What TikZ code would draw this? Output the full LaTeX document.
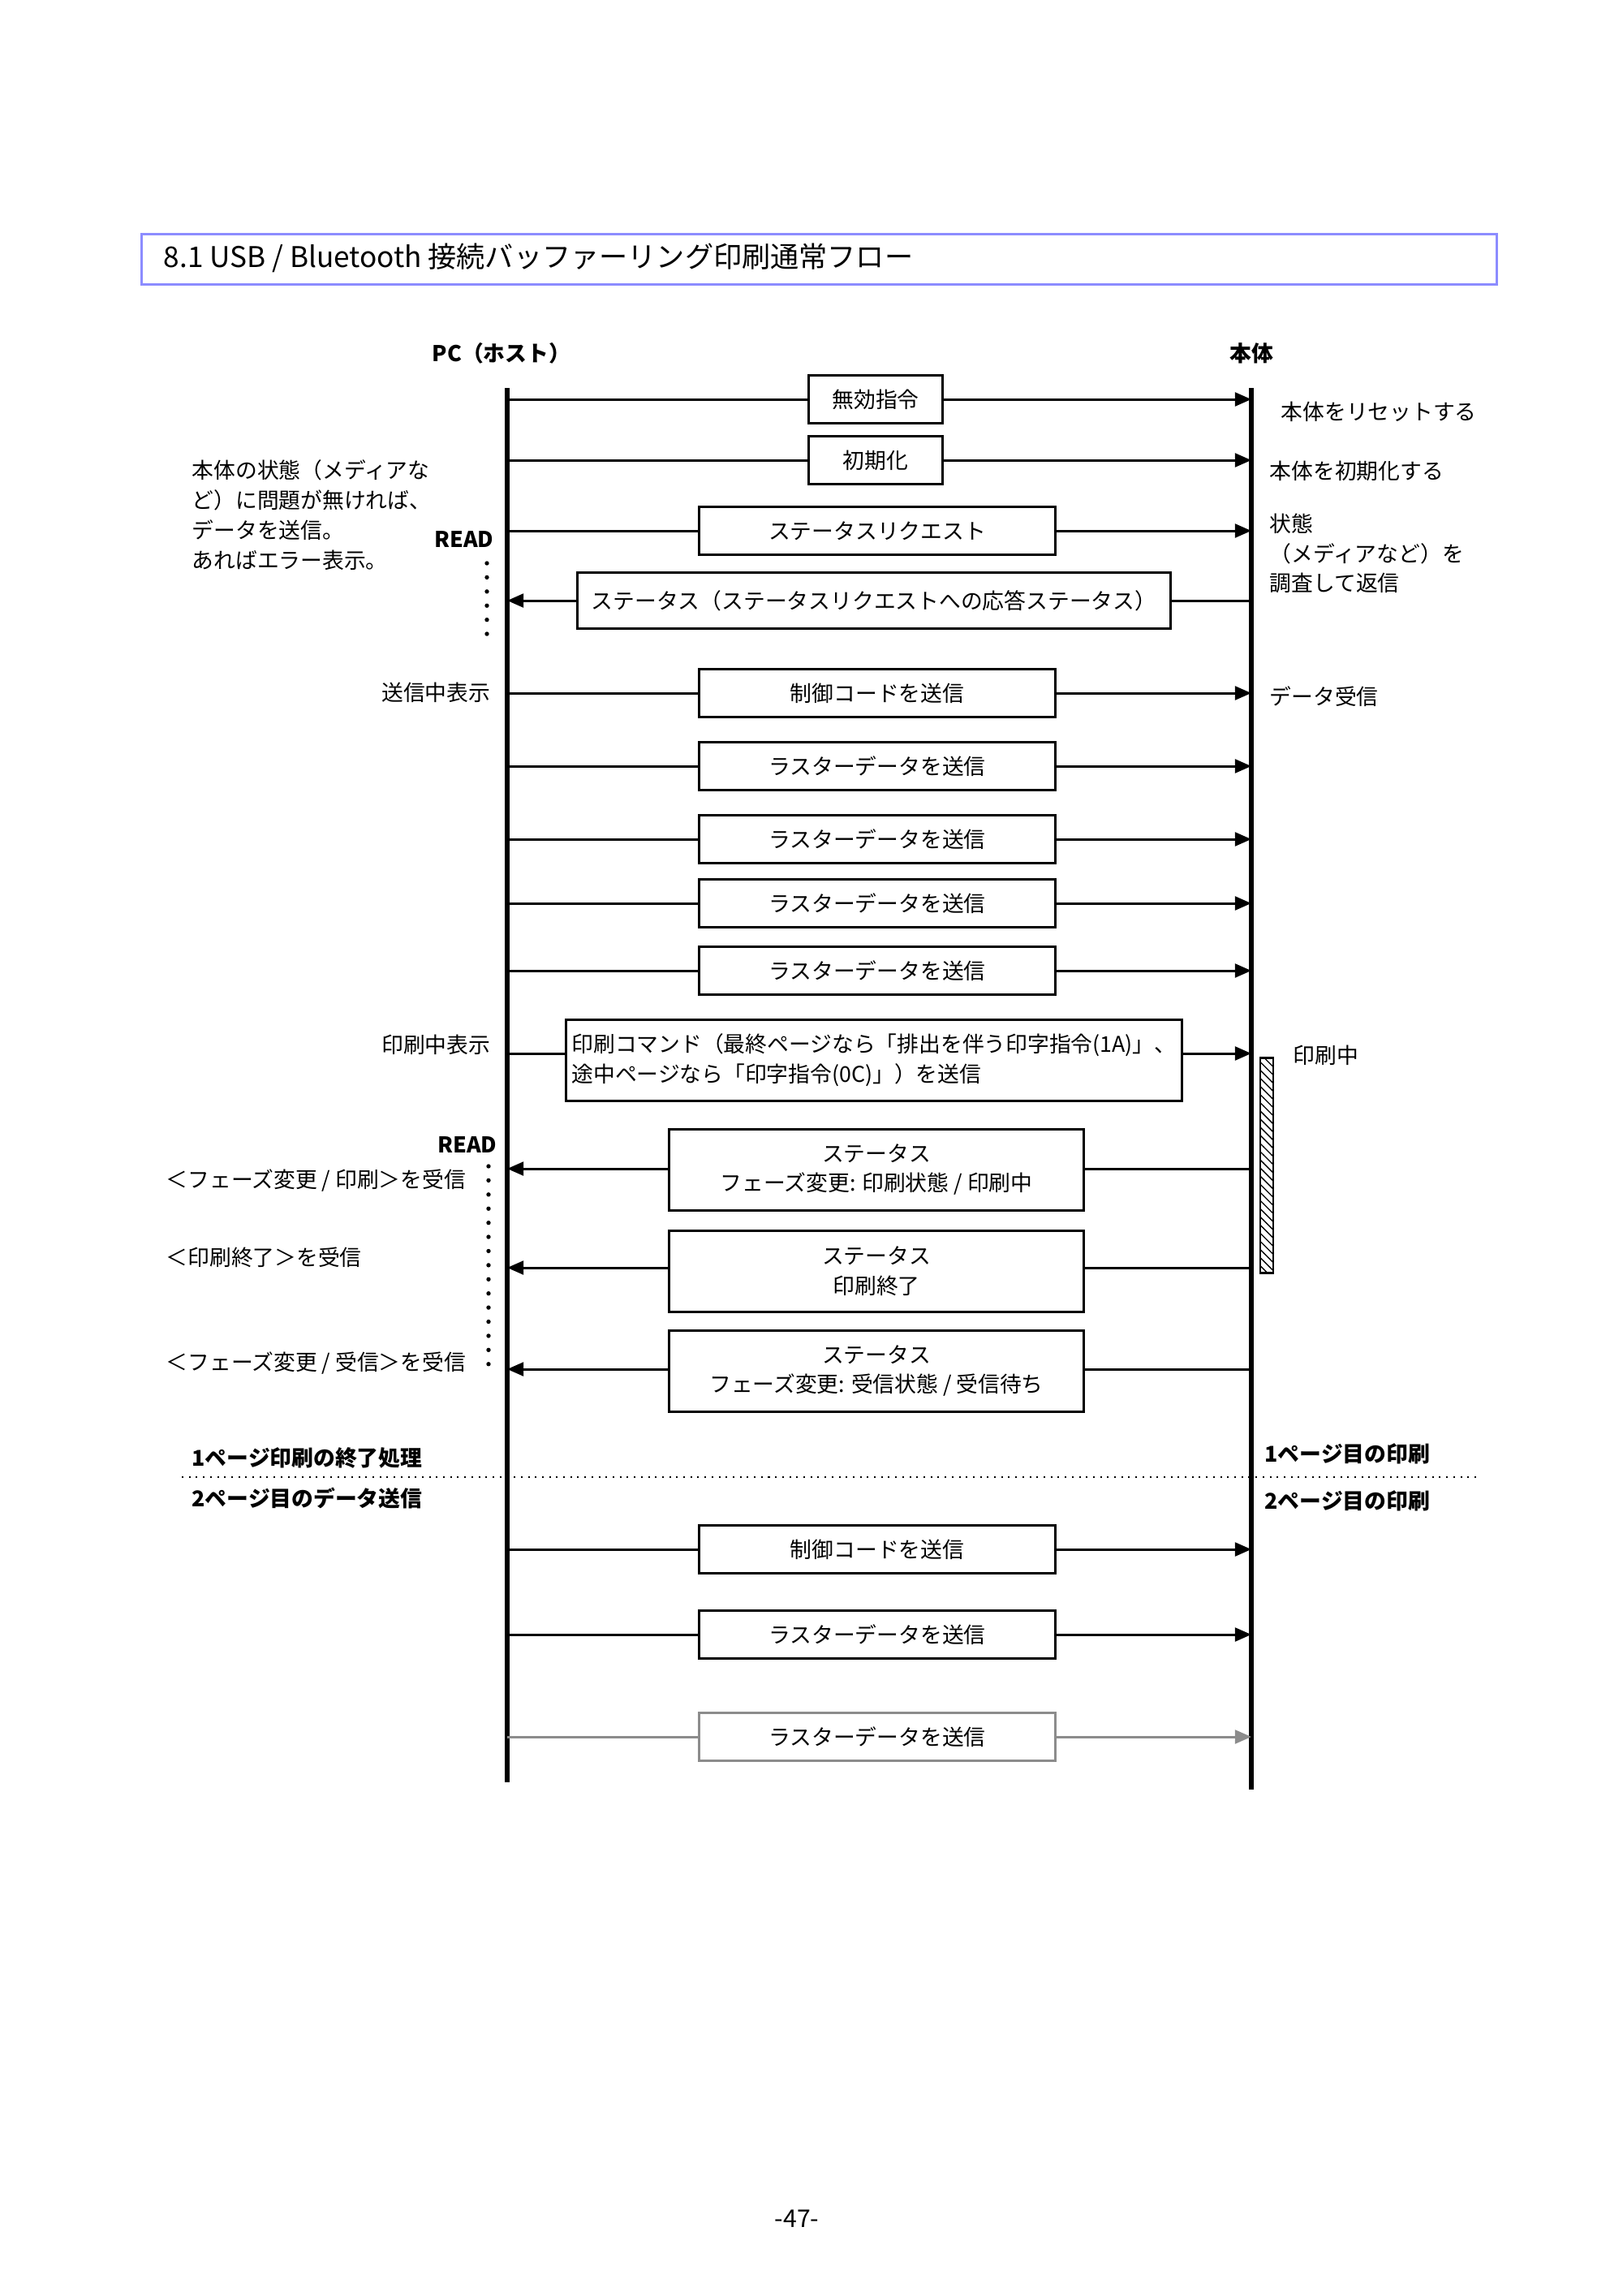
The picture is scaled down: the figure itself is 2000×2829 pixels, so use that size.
\documentclass[tikz,border=0pt]{standalone}
\usepackage{fontspec}
\setmainfont{Noto Sans CJK JP}
\usetikzlibrary{arrows.meta, patterns, positioning}

\tikzset{
  msg/.style={draw, line width=0.9pt, minimum height=0.62cm, inner sep=2pt, font=\fontsize{8}{11}\selectfont},
  wide/.style={msg, minimum width=4.6cm},
  small/.style={msg, minimum width=1.74cm},
  stat/.style={msg, minimum width=5.36cm, minimum height=1.05cm, align=center},
  lbl/.style={font=\fontsize{8}{11}\selectfont, inner sep=0pt},
  blbl/.style={lbl, font=\fontsize{8}{11}\selectfont\bfseries},
  to/.style={line width=0.9pt, -{Triangle[length=6pt,width=5pt]}},
  life/.style={line width=1.8pt},
  rd/.style={line width=1.6pt, dotted, dash pattern=on 0pt off 5.2pt, line cap=round}
}

\begin{document}
\begin{tikzpicture}[x=0.0105cm, y=-0.0105cm]
  \useasboundingbox (0,0) rectangle (2000,2829);

  % title
  \node[draw=blue!45, line width=0.8pt, minimum width=17.53cm, minimum height=0.65cm,
        anchor=north west, inner sep=0pt] (title) at (173,287) {};
  \node[anchor=west, font=\fontsize{10.5}{12}\selectfont] (ttext) at (190,318)
    {8.1 USB / Bluetooth 接続バッファーリング印刷通常フロー};

  % lifelines
  \node[blbl] (pc) at (618,435) {PC（ホスト）};
  \node[blbl] (dev) at (1542,435) {本体};
  \coordinate (ltop) at (625,478);  \coordinate (lbot) at (625,2196);
  \coordinate (rtop) at (1542,478); \coordinate (rbot) at (1542,2205);
  \draw[life] (ltop) -- (lbot);
  \draw[life] (rtop) -- (rbot);

  % messages PC -> device
  \node[small] (m1) at (1079,492) {無効指令};
  \draw[line width=0.9pt] (625,492) coordinate (l1) -- (m1.west);
  \draw[to] (m1.east) -- (1542,492) coordinate (r1);
  \node[small] (m2) at (1079,567) {初期化};
  \draw[line width=0.9pt] (625,567) coordinate (l2) -- (m2.west);
  \draw[to] (m2.east) -- (1542,567) coordinate (r2);
  \node[wide] (m3) at (1081,654) {ステータスリクエスト};
  \draw[line width=0.9pt] (625,654) coordinate (l3) -- (m3.west);
  \draw[to] (m3.east) -- (1542,654) coordinate (r3);

  % status reply
  \node[msg, minimum width=7.68cm, minimum height=0.72cm] (m4) at (1077,740)
    {ステータス（ステータスリクエストへの応答ステータス）};
  \draw[line width=0.9pt] (1542,740) coordinate (r4) -- (m4.east);
  \draw[to] (m4.west) -- (625,740) coordinate (l4);

  % control code and raster data
  \foreach \y/\t in {854/制御コードを送信, 944/ラスターデータを送信, 1034/ラスターデータを送信,
                     1113/ラスターデータを送信, 1196/ラスターデータを送信,
                     1909/制御コードを送信, 2014/ラスターデータを送信} {
    \node[wide] (d\y) at (1081,\y) {\t};
    \draw[line width=0.9pt] (625,\y) -- (d\y.west);
    \draw[to] (d\y.east) -- (1542,\y);
  }
  \node[wide, draw=black!45] (last) at (1081,2140) {ラスターデータを送信};
  \draw[line width=0.9pt, black!45] (625,2140) coordinate (l13) -- (last.west);
  \draw[to, black!45] (last.east) -- (1542,2140) coordinate (r13);

  % print command
  \node[msg, minimum width=7.7cm, minimum height=1.05cm, align=left] (pcmd) at (1077,1306)
    {印刷コマンド（最終ページなら「排出を伴う印字指令(1A)」、\\途中ページなら「印字指令(0C)」）を送信};
  \draw[line width=0.9pt] (625,1298) coordinate (l7) -- (pcmd.west |- l7);
  \draw[to] (pcmd.east |- l7) -- (1542,1298) coordinate (r7);
  \node[draw, line width=0.8pt, pattern=north west lines, minimum width=0.17cm,
        minimum height=2.78cm, inner sep=0pt, anchor=north] (busy) at (1561,1302) {};

  % status messages
  \node[stat] (s1) at (1080,1441) {ステータス\\フェーズ変更: 印刷状態 / 印刷中};
  \node[stat] (s2) at (1080,1566) {ステータス\\印刷終了};
  \node[stat] (s3) at (1080,1689) {ステータス\\フェーズ変更: 受信状態 / 受信待ち};
  \foreach \s/\y in {s1/1440, s2/1562, s3/1687} {
    \draw[line width=0.9pt] (1542,\y) -- (\s.east |- 0,\y);
    \draw[to] (\s.west |- 0,\y) -- (625,\y);
  }

  % READ dots
  \node[blbl, anchor=east] (read1) at (609,665) {READ};
  \draw[rd] (600,694) -- (600,794);
  \node[blbl, anchor=east] (read2) at (613,1411) {READ};
  \draw[rd] (602,1437) -- (602,1690);

  % left notes
  \node[lbl, anchor=north west, align=left] (note) at (236,566)
    {本体の状態（メディアな\\ど）に問題が無ければ、\\データを送信。\\あればエラー表示。};
  \node[lbl, anchor=east] (send) at (605,853) {送信中表示};
  \node[lbl, anchor=east] (prt) at (605,1287) {印刷中表示};
  \node[lbl, anchor=west] (rx1) at (204,1455) {＜フェーズ変更 / 印刷＞を受信};
  \node[lbl, anchor=west] (rx2) at (204,1549) {＜印刷終了＞を受信};
  \node[lbl, anchor=west] (rx3) at (204,1680) {＜フェーズ変更 / 受信＞を受信};

  % right notes
  \node[lbl, anchor=west] (reset) at (1578,507) {本体をリセットする};
  \node[lbl, anchor=west] (init) at (1564,580) {本体を初期化する};
  \node[lbl, anchor=north west, align=left] (chk) at (1564,632)
    {状態\\（メディアなど）を\\調査して返信};
  \node[lbl, anchor=west] (recv) at (1564,858) {データ受信};
  \node[lbl, anchor=west] (busyl) at (1593,1300) {印刷中};

  % page separator
  \coordinate (sepl) at (224,1820); \coordinate (sepr) at (1825,1820);
  \draw[line width=0.6pt, dotted] (sepl) -- (sepr);
  \node[blbl, anchor=west] (end1) at (236,1796) {1ページ印刷の終了処理};
  \node[blbl, anchor=west] (send2) at (236,1846) {2ページ目のデータ送信};
  \node[blbl, anchor=west] (pg1) at (1558,1791) {1ページ目の印刷};
  \node[blbl, anchor=west] (pg2) at (1558,1849) {2ページ目の印刷};

  \node[font=\fontsize{9}{11}\selectfont] (pgno) at (982,2734) {-47-};
\end{tikzpicture}
\end{document}
